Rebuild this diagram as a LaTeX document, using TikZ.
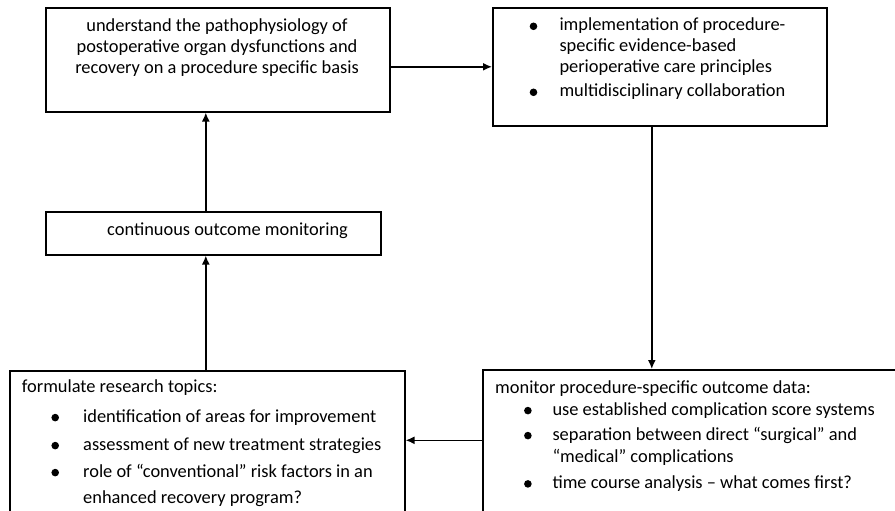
\documentclass[tikz,border=0pt]{standalone}
\usepackage{fontspec}
\setmainfont{Carlito}
\usetikzlibrary{arrows.meta}
\newcommand{\bl}{\raisebox{0.6pt}{\tikz[x=1pt,y=1pt]\fill[black] (0,0) circle [radius=3.8pt];}}
\begin{document}
\begin{tikzpicture}[x=1pt,y=-1pt,
  box/.style={draw, line width=1.6pt, inner sep=0pt, anchor=north west},
  txt/.style={inner sep=0pt, font=\fontsize{18.4}{21}\selectfont, anchor=base west},
  arr/.style={line width=1.5pt, -{Latex[length=9pt,width=8pt]}}]
\useasboundingbox[fill=white] (0,0) rectangle (895,511);
\node[box, minimum width=344pt, minimum height=104pt] (A) at (45,7) {};
\node[box, minimum width=334pt, minimum height=118pt] (B) at (492,7) {};
\node[box, minimum width=335pt, minimum height=43pt] (C) at (45,211) {};
\node[box, minimum width=395pt, minimum height=160pt] (D) at (9,370) {};
\node[box, minimum width=423pt, minimum height=161pt] (E) at (482,369) {};

\node[txt, anchor=base] (tA) at (217,31.7) {%
\begin{tabular}[t]{@{}c@{}}
understand the pathophysiology of\\
postoperative organ dysfunctions and\\
recovery on a procedure specific basis
\end{tabular}};
\node[txt] (tB) at (529.5,30.7) {%
\begin{tabular}[t]{@{}p{29.8pt}@{}l@{}}
\bl & implementation of procedure-\\
 & specific evidence-based\\
 & perioperative care principles\\[3pt]
\bl & multidisciplinary collaboration
\end{tabular}};
\node[txt] (tC) at (107,235) {continuous outcome monitoring};
\node[txt] (tD) at (21.7,392) {%
\begin{tabular}[t]{@{}p{29.5pt}@{}p{31.8pt}@{}l@{}}
\multicolumn{3}{@{}l@{}}{formulate research topics:}\\[9pt]
 & \bl & identification of areas for improvement\\[7pt]
 & \bl & assessment of new treatment strategies\\[6pt]
 & \bl & role of “conventional” risk factors in an\\[5pt]
 & & enhanced recovery program?
\end{tabular}};
\node[txt] (tE) at (495,393.3) {%
\begin{tabular}[t]{@{}p{28.9pt}@{}p{28.4pt}@{}l@{}}
\multicolumn{3}{@{}l@{}}{monitor procedure-specific outcome data:}\\[0.7pt]
 & \bl & use established complication score systems\\[4pt]
 & \bl & separation between direct “surgical” and\\[1.3pt]
 & & “medical” complications\\[5pt]
 & \bl & time course analysis – what comes first?
\end{tabular}};

\draw[arr] (A.east |- B.west) -- (B.west);
\draw[arr] ([xshift=-8pt]B.south) -- ([xshift=-8pt]B.south |- E.north);
\draw[arr] ([yshift=10pt]E.west) -- ([yshift=10pt]E.west -| D.east);
\draw[arr] ([xshift=-1.5pt]D.north) -- ([xshift=-1.5pt]D.north |- C.south);
\draw[arr] ([xshift=-7.5pt]C.north) -- ([xshift=-7.5pt]C.north |- A.south);
\end{tikzpicture}
\end{document}
